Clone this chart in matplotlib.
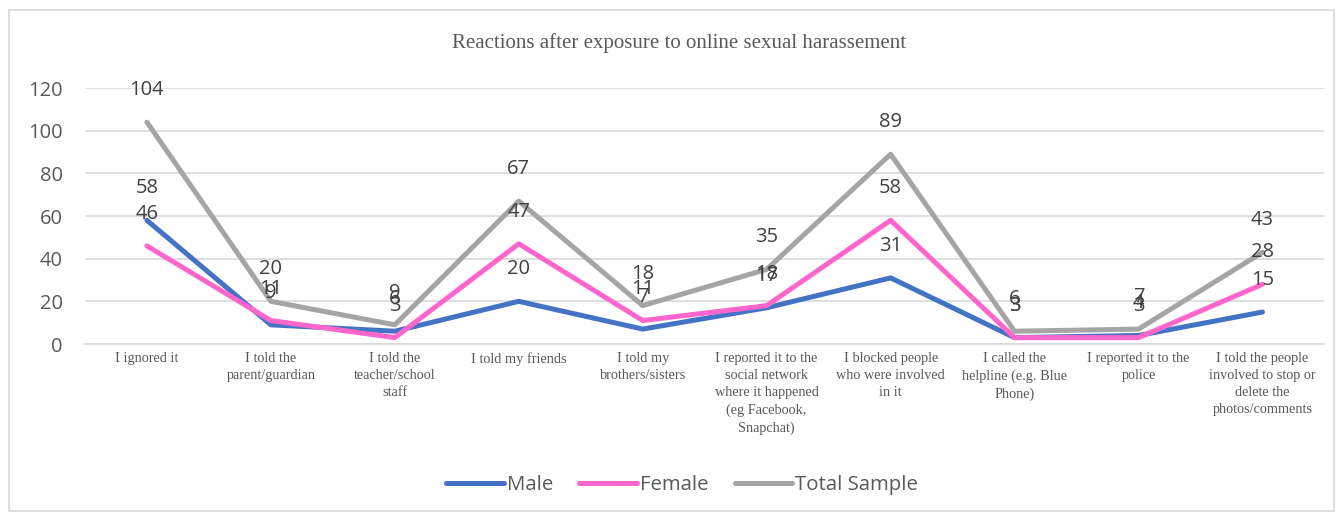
import matplotlib.pyplot as plt
from matplotlib.patches import Rectangle

kategorie = [
    "I ignored it",
    "I told the\nparent/guardian",
    "I told the\nteacher/school\nstaff",
    "I told my friends",
    "I told my\nbrothers/sisters",
    "I reported it to the\nsocial network\nwhere it happened\n(eg Facebook,\nSnapchat)",
    "I blocked people\nwho were involved\nin it",
    "I called the\nhelpline (e.g. Blue\nPhone)",
    "I reported it to the\npolice",
    "I told the people\ninvolved to stop or\ndelete the\nphotos/comments",
]
male = [58, 9, 6, 20, 7, 17, 31, 3, 4, 15]
female = [46, 11, 3, 47, 11, 18, 58, 3, 3, 28]
total = [104, 20, 9, 67, 18, 35, 89, 6, 7, 43]
y_ticks = [0, 20, 40, 60, 80, 100, 120]

fig = plt.figure(figsize=(13.4, 5.15), dpi=100)
ax = fig.add_axes([0.0634, 0.332, 0.925, 0.497])

# ramka wykresu
fig.patches.append(Rectangle((9 / 1340, 4 / 515), 1325 / 1340, 501 / 515,
                             transform=fig.transFigure, fill=False,
                             edgecolor="#D9D9D9", linewidth=1.2))

x = list(range(len(kategorie)))
serie = [
    ("Male", male, "#4472C4"),
    ("Female", female, "#FF66CC"),
    ("Total Sample", total, "#A5A5A5"),
]
for nazwa, wartosci, kolor in serie:
    ax.plot(x, wartosci, color=kolor, linewidth=3.6, label=nazwa,
            solid_joinstyle="round", solid_capstyle="round")

# etykiety danych
for nazwa, wartosci, kolor in serie:
    for xi, v in zip(x, wartosci):
        ax.annotate(str(v), (xi, v), xytext=(0, 32), textcoords="offset pixels",
                    ha="center", va="center", fontsize=14.5, color="#404040",
                    family="Open Sans", annotation_clip=False)

ax.set_xlim(-0.5, len(kategorie) - 0.5)
ax.set_ylim(0, 120)
ax.set_yticks(y_ticks)
ax.set_yticklabels([str(t) for t in y_ticks], fontsize=14.5, color="#595959",
                   family="Open Sans")
ax.set_xticks(x)
ax.set_xticklabels(kategorie, fontsize=10.3, family="Liberation Serif",
                   color="#595959", linespacing=1.4)
ax.tick_params(axis="both", length=0)
ax.tick_params(axis="y", pad=16)
ax.tick_params(axis="x", pad=6)
ax.grid(axis="y", color="#D9D9D9", linewidth=1.2)
ax.set_axisbelow(True)
for s in ["top", "right", "left"]:
    ax.spines[s].set_visible(False)
ax.spines["bottom"].set_color("#D9D9D9")
ax.spines["bottom"].set_linewidth(1.2)

fig.text(0.507, 0.916, "Reactions after exposure to online sexual harassement",
         ha="center", va="center", fontsize=15, family="Liberation Serif",
         color="#595959")

fig.legend(loc="center", bbox_to_anchor=(0.509, 0.058), ncol=3, frameon=False,
           prop={"family": "Open Sans", "size": 14.7}, handlelength=2.8,
           columnspacing=1.3, handletextpad=0.15, labelcolor="#595959")

plt.savefig("out.png", dpi=100)
